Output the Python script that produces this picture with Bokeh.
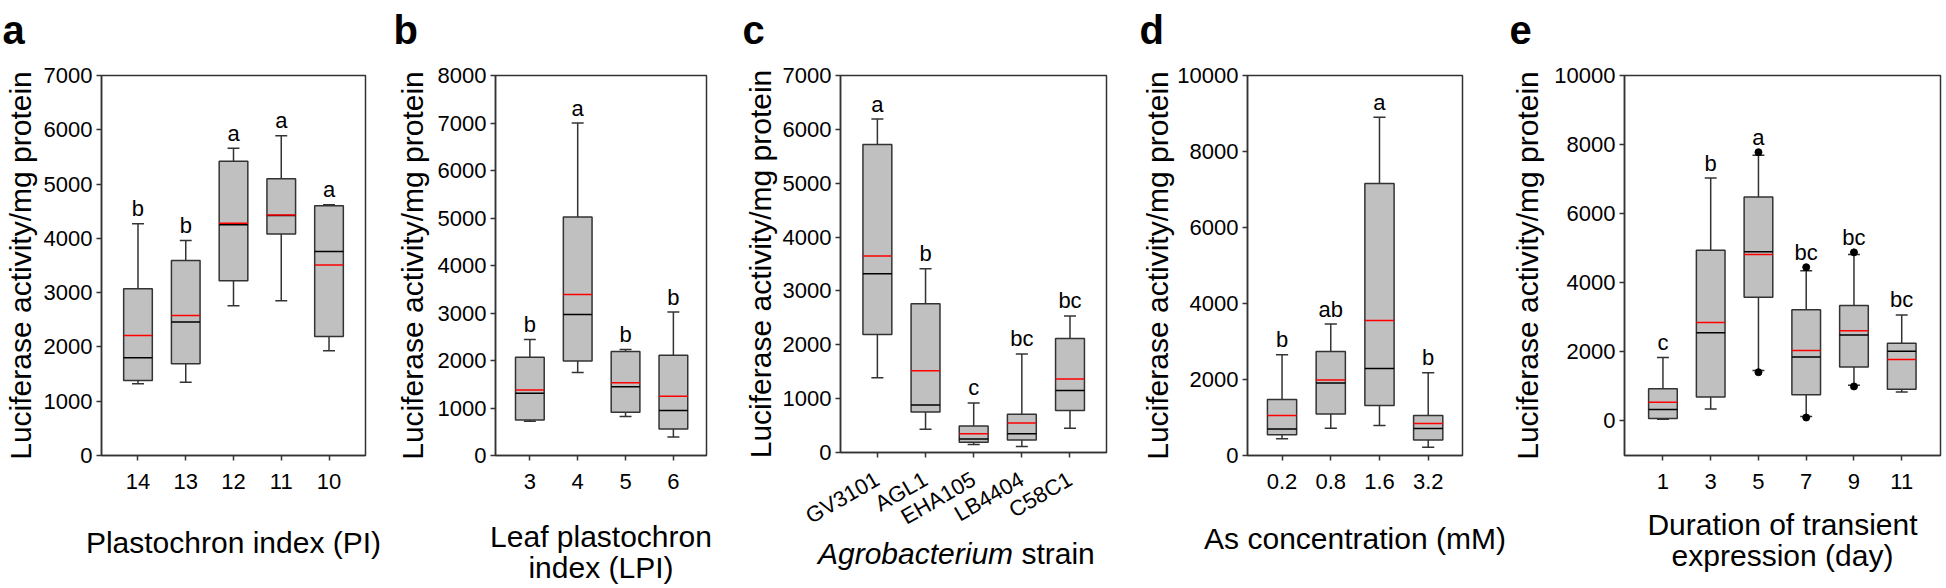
import math
from bokeh.plotting import figure
from bokeh.models import Range1d, FixedTicker, Div
from bokeh.layouts import row, column
from bokeh.embed import file_html
from bokeh.resources import INLINE
from bokeh.core.properties import value

FONT = "Liberation Sans"
YLABEL = "Luciferase activity/mg protein"
PANEL_LETTERS = ["a", "b", "c", "d", "e"]

# ---------------- panel a : Plastochron index ----------------
a_labels = ["14", "13", "12", "11", "10"]
a_whisker_low = [1320, 1350, 2760, 2850, 1930]
a_q1 = [1380, 1690, 3220, 4080, 2190]
a_median = [1800, 2460, 4250, 4420, 3760]
a_mean = [2210, 2580, 4280, 4430, 3510]
a_q3 = [3070, 3590, 5420, 5100, 4600]
a_whisker_high = [4270, 3960, 5660, 5890, 4620]
a_letters = ["b", "b", "a", "a", "a"]

# ---------------- panel b : Leaf plastochron index ----------------
b_labels = ["3", "4", "5", "6"]
b_whisker_low = [720, 1750, 820, 390]
b_q1 = [750, 1990, 910, 560]
b_median = [1310, 2970, 1450, 950]
b_mean = [1380, 3390, 1530, 1250]
b_q3 = [2070, 5020, 2190, 2110]
b_whisker_high = [2440, 7000, 2230, 3020]
b_letters = ["b", "a", "b", "b"]

# ---------------- panel c : Agrobacterium strain ----------------
c_labels = ["GV3101", "AGL1", "EHA105", "LB4404", "C58C1"]
c_whisker_low = [1390, 430, 150, 110, 450]
c_q1 = [2190, 750, 190, 230, 780]
c_median = [3320, 880, 250, 350, 1150]
c_mean = [3650, 1520, 350, 550, 1365]
c_q3 = [5720, 2760, 490, 710, 2115]
c_whisker_high = [6190, 3410, 920, 1830, 2536]
c_letters = ["a", "b", "c", "bc", "bc"]

# ---------------- panel d : As concentration ----------------
d_labels = ["0.2", "0.8", "1.6", "3.2"]
d_whisker_low = [440, 720, 790, 220]
d_q1 = [545, 1095, 1315, 405]
d_median = [700, 1910, 2290, 710]
d_mean = [1050, 1990, 3550, 840]
d_q3 = [1475, 2735, 7160, 1055]
d_whisker_high = [2650, 3460, 8900, 2175]
d_letters = ["b", "ab", "a", "b"]

# ---------------- panel e : Duration of transient expression ----------------
e_labels = ["1", "3", "5", "7", "9", "11"]
e_whisker_low = [50, 345, 1460, 130, 1030, 840]
e_q1 = [70, 690, 3580, 760, 1560, 915]
e_median = [330, 2550, 4900, 1850, 2490, 2020]
e_mean = [540, 2850, 4820, 2040, 2610, 1780]
e_q3 = [935, 4940, 6480, 3220, 3340, 2250]
e_whisker_high = [1840, 7030, 7690, 4350, 4820, 3070]
e_outlier_pos = [3, 3, 4, 4, 5, 5]
e_outlier_val = [7780, 1410, 4450, 100, 4880, 1000]
e_letters = ["c", "b", "a", "bc", "bc", "bc"]

LINE = "#333333"
STRIP_H = 52
FIG_H = 588 - STRIP_H
BORDER_TOP = 75 - STRIP_H


def make_panel(labels, wlo, q1, med, mean, q3, whi, letters,
               yr, yticks, xr, width, bl, br, xlabel, xl_standoff, yl_standoff,
               height=FIG_H, bb=133, out_x=None, out_y=None, angle=0):
    n = len(labels)
    xs = list(range(1, n + 1))
    p = figure(width=width, height=height, x_range=Range1d(*xr), y_range=Range1d(*yr),
               output_backend="svg", toolbar_location=None,
               min_border_left=bl, min_border_right=br,
               min_border_top=BORDER_TOP, min_border_bottom=bb)
    p.grid.visible = False
    p.outline_line_color = LINE
    p.outline_line_width = 1.5
    for ax in (p.xaxis[0], p.yaxis[0]):
        ax.axis_line_color = LINE
        ax.axis_line_width = 1.5
        ax.major_tick_line_color = LINE
        ax.major_tick_line_width = 1.5
        ax.major_tick_in = 0
        ax.major_tick_out = 5
        ax.minor_tick_line_color = None
        ax.major_label_text_font = FONT
        ax.major_label_text_font_size = "22px"
        ax.major_label_text_color = "black"
        ax.axis_label_text_font = FONT
        ax.axis_label_text_font_size = "30px"
        ax.axis_label_text_font_style = "normal"
        ax.axis_label_text_color = "black"
        ax.axis_label_text_line_height = 0.95
    p.xaxis.ticker = FixedTicker(ticks=xs)
    p.xaxis.major_label_overrides = {x: l for x, l in zip(xs, labels)}
    p.xaxis.major_label_standoff = 13 if not angle else 20
    if angle:
        p.xaxis.major_label_orientation = angle
    p.xaxis.axis_label = xlabel
    p.xaxis.axis_label_standoff = xl_standoff
    p.yaxis.ticker = FixedTicker(ticks=yticks)
    p.yaxis.axis_label = YLABEL
    p.yaxis.major_label_standoff = 4
    p.yaxis.axis_label_standoff = yl_standoff

    half_cap = 0.125
    half_box = 0.3
    # whiskers
    p.segment(x0=xs, y0=wlo, x1=xs, y1=whi, line_color=LINE, line_width=1.5)
    p.segment(x0=[x - half_cap for x in xs], y0=whi, x1=[x + half_cap for x in xs], y1=whi,
              line_color=LINE, line_width=1.5)
    p.segment(x0=[x - half_cap for x in xs], y0=wlo, x1=[x + half_cap for x in xs], y1=wlo,
              line_color=LINE, line_width=1.5)
    # boxes
    p.vbar(x=xs, width=2 * half_box, bottom=q1, top=q3, fill_color="#c0c0c0",
           line_color=LINE, line_width=1.5)
    # median (black) and mean (red)
    p.segment(x0=[x - half_box for x in xs], y0=med, x1=[x + half_box for x in xs], y1=med,
              line_color="black", line_width=1.5)
    p.segment(x0=[x - half_box for x in xs], y0=mean, x1=[x + half_box for x in xs], y1=mean,
              line_color="#ff0000", line_width=1.5)
    tops = list(whi)
    if out_x is not None:
        p.scatter(x=out_x, y=out_y, size=7, color="black")
        for ox, oy in zip(out_x, out_y):
            if oy > tops[ox - 1]:
                tops[ox - 1] = oy
    p.text(x=xs, y=tops, text=letters, text_align="center", text_baseline="alphabetic",
           y_offset=-15, text_font=value(FONT), text_font_size="22px", text_color="black")
    return p


# top strip with the panel letters
top = figure(width=1946, height=STRIP_H, x_range=Range1d(0, 1946), y_range=Range1d(0, STRIP_H),
             output_backend="svg", toolbar_location=None, min_border=0,
             x_axis_location=None, y_axis_location=None)
top.grid.visible = False
top.outline_line_color = None
top.text(x=[2, 393, 742, 1139, 1509], y=[23] * 5, text=PANEL_LETTERS,
         text_font=value(FONT), text_font_size="40px", text_font_style="bold",
         text_align="left", text_baseline="alphabetic", text_color="black")

pa = make_panel(a_labels, a_whisker_low, a_q1, a_median, a_mean, a_q3, a_whisker_high,
                a_letters, (0, 7000), list(range(0, 7001, 1000)), (0.236, 5.764),
                392, 98, 27, "Plastochron index (PI)", 34, 4)
pb = make_panel(b_labels, b_whisker_low, b_q1, b_median, b_mean, b_q3, b_whisker_high,
                b_letters, (0, 8000), list(range(0, 8001, 1000)), (0.282, 4.692),
                348, 101, 34, "Leaf plastochron\nindex (LPI)", 28, 6)
C_TITLE_H = 45
pc = make_panel(c_labels, c_whisker_low, c_q1, c_median, c_mean, c_q3, c_whisker_high,
                c_letters, (0, 7000), list(range(0, 7001, 1000)), (0.234, 5.758),
                398, 97, 32, "", 0, 3, height=FIG_H - C_TITLE_H, bb=133 - C_TITLE_H,
                angle=math.pi / 6)
# x-axis title of panel c (italic genus name + upright word)
c_title = Div(width=398, height=C_TITLE_H, margin=(0, 0, 0, 0),
              text=('<div style="padding-left:78px; padding-top:0px; white-space:nowrap; '
                    'font-family:\'Liberation Sans\'; font-size:30px; line-height:22px; '
                    'color:black;"><i>Agrobacterium</i> strain</div>'))
pd_ = make_panel(d_labels, d_whisker_low, d_q1, d_median, d_mean, d_q3, d_whisker_high,
                 d_letters, (0, 10000), list(range(0, 10001, 2000)), (0.291, 4.704),
                 370, 106, 46, "As concentration (mM)", 30, 0)
pe = make_panel(e_labels, e_whisker_low, e_q1, e_median, e_mean, e_q3, e_whisker_high,
                e_letters, (-1000, 10000), list(range(0, 10001, 2000)), (0.195, 6.812),
                438, 114, 6, "Duration of transient\nexpression (day)", 16, 7,
                out_x=e_outlier_pos, out_y=e_outlier_val)

layout = column(top, row(pa, pb, column(pc, c_title), pd_, pe))
open("out.html", "w").write(file_html(layout, INLINE))
